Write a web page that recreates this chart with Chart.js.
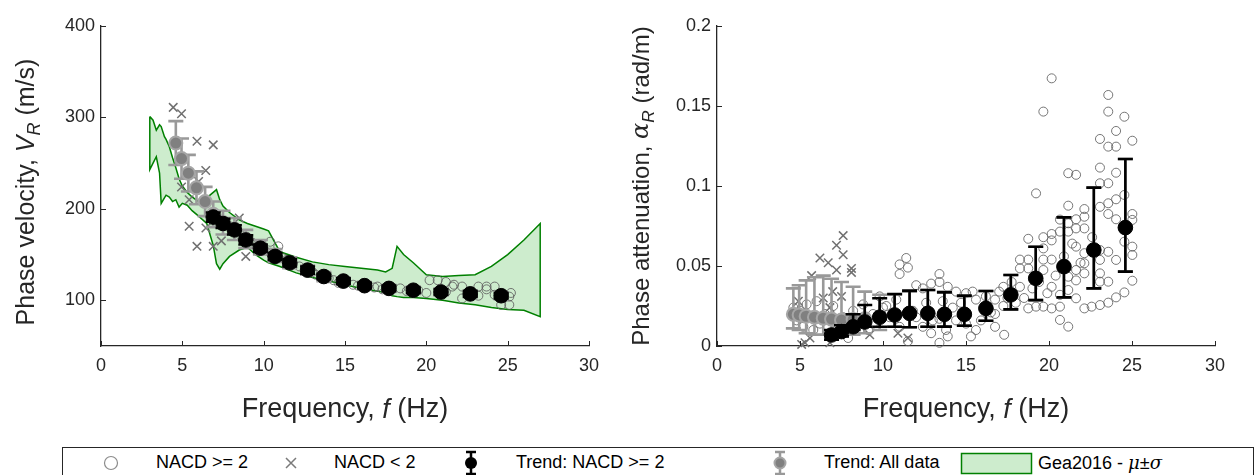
<!DOCTYPE html>
<html>
<head>
<meta charset="utf-8">
<script src="https://cdn.jsdelivr.net/npm/chart.js"></script>
<style>
  body { margin: 0; background: #fff; width: 1255px; height: 475px; overflow: hidden; position: relative; font-family: 'Liberation Sans', Arial, sans-serif; }
  canvas { position: absolute; top: 0; }
  #legend { position: absolute; left: 62px; top: 447px; width: 1190px; height: 40px; border: 1px solid #262626; background: #fff; }
  #legend span { position: absolute; top: 4px; font-size: 18px; color: #000; white-space: nowrap; }
  #legend svg { position: absolute; left: 0; top: 0; }
</style>
</head>
<body>
<canvas id="velChart" width="620" height="440" style="left:0"></canvas>
<canvas id="attChart" width="635" height="440" style="left:620px"></canvas>
<div id="legend">
  <svg width="1190" height="40">
    <circle cx="48" cy="15" r="6.5" fill="none" stroke="#8c8c8c" stroke-width="1.2"/>
    <path d="M223 10 L233 20 M233 10 L223 20" stroke="#7a7a7a" stroke-width="1.5"/>
    <path d="M408 4 V26 M403 4 H413 M403 26 H413" stroke="#000" stroke-width="2.5"/>
    <circle cx="408" cy="15" r="6" fill="#000"/>
    <path d="M717 4 V26 M712 4 H722 M712 26 H722" stroke="#999" stroke-width="2.5"/>
    <circle cx="717" cy="15" r="5.5" fill="#808080" stroke="#a6a6a6" stroke-width="2"/>
    <rect x="898.5" y="5.5" width="70" height="20" fill="#cdeccd" stroke="#008000" stroke-width="1.5"/>
  </svg>
  <span style="left:93px">NACD &gt;= 2</span>
  <span style="left:271px">NACD &lt; 2</span>
  <span style="left:453px">Trend: NACD &gt;= 2</span>
  <span style="left:761px">Trend: All data</span>
  <span style="left:975px">Gea2016 - <i style="font-family:'DejaVu Serif',serif">μ</i>±<i style="font-family:'DejaVu Serif',serif">σ</i></span>
</div>
<script>
// ---- tick labels ----
const freqTicks = [0, 5, 10, 15, 20, 25, 30];
const velTicks = [100, 200, 300, 400];
const attTicks = [0, 0.05, 0.1, 0.15, 0.2];

// ---- Gea2016 mu +/- sigma band (phase velocity) ----
const bandF = [3.0, 3.2, 3.4, 3.6, 3.7, 3.9, 4.0, 4.2, 4.4, 4.6, 4.8, 5.0, 5.3, 5.6, 6.0, 6.5, 6.9, 7.1, 7.3, 7.5, 7.9, 8.5, 9.0, 9.5, 10.0, 10.3, 11.0, 12.0, 13.0, 14.0, 15.0, 16.0, 17.0, 17.5, 17.9, 18.2, 18.6, 19.2, 20.0, 21.0, 22.0, 23.0, 24.0, 25.0, 26.0, 27.0];
const bandUpper = [301, 297, 286, 292, 290, 279, 276, 268, 256, 245, 233, 225, 218, 213, 208, 212, 218, 221, 210, 203, 196, 188, 184, 181, 178, 176, 153, 147, 142, 139, 137, 135, 133, 131, 135, 159, 150, 141, 128, 126, 127, 128, 137, 150, 166, 184];
const bandLower = [243, 250, 257, 239, 206, 212, 215, 213, 208, 210, 202, 206, 204, 198, 192, 184, 160, 140, 134, 140, 148, 155, 158, 150, 144, 141, 137, 130, 125, 121, 117, 113, 110, 108, 105, 104, 103, 103, 102, 100, 97, 95, 92, 90, 89, 82];

// ---- individual measurements, NACD >= 2 ----
const circF_vel = [6.8, 7.2, 7.6, 7.9, 8.3, 8.6, 9.0, 9.3, 9.6, 10.0, 10.4, 10.4, 10.9, 10.9, 11.2, 11.4, 11.8, 12.2, 12.6, 13.0, 13.2, 13.6, 14.0, 14.3, 14.6, 15.0, 15.5, 15.8, 16.4, 16.8, 17.0, 17.3, 17.8, 18.4, 18.8, 19.5, 20.0, 20.2, 20.7, 21.2, 21.2, 21.6, 21.7, 22.2, 22.2, 22.6, 23.2, 23.2, 23.7, 23.7, 24.2, 24.2, 24.6, 24.7, 25.1, 25.1, 25.2];
const circV = [195, 190, 186, 181, 176, 171, 168, 163, 160, 156, 164, 152, 159, 147, 146, 144, 140, 137, 132, 131, 128, 126, 124, 122, 119, 121, 117, 116, 115, 114, 115, 112, 112, 113, 110, 111, 108, 122, 122, 120, 109, 115, 117, 115, 102, 107, 115, 105, 115, 112, 115, 106, 95, 104, 95, 104, 108];

const circF_att = [4.6, 4.8, 5.0, 5.2, 5.4, 5.6, 5.8, 6.0, 6.2, 6.5, 6.8, 7.0, 7.3, 7.6, 7.9, 8.2, 8.5, 8.8, 9.1, 9.4, 9.4, 9.8, 10.0, 10.2, 10.4, 10.8, 11.0, 11.0, 11.0, 11.4, 11.5, 11.5, 11.8, 12.0, 12.0, 12.4, 12.4, 12.6, 12.9, 12.9, 13.0, 13.4, 13.4, 13.4, 13.4, 13.6, 13.8, 13.9, 13.9, 14.2, 14.4, 14.4, 14.7, 15.0, 15.0, 15.3, 15.4, 15.6, 15.6, 15.9, 16.2, 16.5, 16.75, 16.75, 16.75, 17.0, 17.25, 17.25, 17.3, 17.5, 17.75, 18.0, 18.25, 18.25, 18.25, 18.5, 18.75, 18.75, 18.75, 18.75, 19.0, 19.22, 19.22, 19.4, 19.66, 19.66, 19.66, 19.66, 19.66, 19.66, 19.9, 20.16, 20.16, 20.16, 20.16, 20.16, 20.16, 20.4, 20.66, 20.66, 20.66, 20.66, 20.66, 20.9, 21.16, 21.16, 21.16, 21.16, 21.16, 21.16, 21.16, 21.4, 21.63, 21.63, 21.63, 21.63, 21.63, 21.63, 21.63, 21.9, 22.13, 22.13, 22.13, 22.13, 22.13, 22.13, 22.13, 22.57, 22.6, 23.07, 23.07, 23.07, 23.07, 23.07, 23.07, 23.07, 23.07, 23.07, 23.57, 23.57, 23.57, 23.57, 23.57, 23.57, 23.57, 23.57, 23.57, 24.04, 24.04, 24.04, 24.04, 24.04, 24.04, 24.04, 24.54, 24.54, 24.54, 24.54, 25.02, 25.02, 25.02, 25.02, 25.02, 25.02];
const circA = [0.024, 0.016, 0.022, 0.012, 0.026, 0.018, 0.010, 0.028, 0.014, 0.020, 0.008, 0.025, 0.012, 0.018, 0.005, 0.022, 0.015, 0.026, 0.010, 0.014, 0.020, 0.031, 0.024, 0.025, 0.018, 0.029, 0.012, 0.045, 0.051, 0.055, 0.049, 0.003, 0.022, 0.038, 0.018, 0.036, 0.012, 0.027, 0.039, 0.008, 0.016, 0.045, 0.040, 0.017, 0.002, 0.028, 0.010, 0.037, 0.006, 0.024, 0.034, 0.016, 0.027, 0.033, 0.014, 0.006, 0.034, 0.029, 0.010, 0.016, 0.031, 0.021, 0.029, 0.020, 0.012, 0.034, 0.037, 0.025, 0.007, 0.030, 0.040, 0.027, 0.054, 0.0485, 0.037, 0.030, 0.067, 0.054, 0.0485, 0.0235, 0.036, 0.0954, 0.0246, 0.040, 0.1465, 0.068, 0.061, 0.054, 0.0475, 0.0246, 0.033, 0.1673, 0.070, 0.066, 0.054, 0.037, 0.0235, 0.044, 0.079, 0.0715, 0.032, 0.0246, 0.0163, 0.056, 0.108, 0.0877, 0.0767, 0.0715, 0.0433, 0.035, 0.0121, 0.064, 0.107, 0.0792, 0.0735, 0.0621, 0.0475, 0.041, 0.0298, 0.052, 0.0856, 0.0808, 0.0735, 0.058, 0.0517, 0.0454, 0.0235, 0.0246, 0.068, 0.1294, 0.1115, 0.1017, 0.087, 0.060, 0.0538, 0.0454, 0.0402, 0.0256, 0.1569, 0.1465, 0.1246, 0.1017, 0.0892, 0.0825, 0.0589, 0.0402, 0.0271, 0.1344, 0.1246, 0.1083, 0.0917, 0.0792, 0.0538, 0.0304, 0.1433, 0.0944, 0.0652, 0.0335, 0.1283, 0.0825, 0.0788, 0.0621, 0.0569, 0.0408];

// ---- individual measurements, NACD < 2 ----
const crossF_vel = [4.44, 4.95, 5.9, 6.9, 6.44, 4.95, 5.42, 6.0, 5.42, 6.45, 5.9, 6.9, 8.5, 8.9, 7.4];
const crossV = [311, 304, 274, 270, 242, 224, 210, 230, 181, 179, 159, 159, 190, 148, 165];
const crossF_att = [4.9, 5.1, 5.3, 5.6, 5.7, 6.2, 6.4, 6.7, 6.8, 6.8, 6.97, 7.2, 7.2, 7.5, 7.6, 7.6, 8.1, 8.1, 9.2, 10.9, 11.5];
const crossA = [0.028, 0.001, 0.002, 0.005, 0.044, 0.055, 0.030, 0.052, 0.024, 0.002, 0.034, 0.063, 0.0475, 0.031, 0.069, 0.057, 0.0485, 0.046, 0.007, 0.008, 0.005];

// ---- trend, all data (grey) ----
const allF = [4.6, 4.95, 5.37, 5.87, 6.4, 6.9, 7.5, 8.2, 8.9, 9.8, 10.7, 11.6, 12.7, 13.7, 14.9, 16.2, 17.7, 19.2, 20.9, 22.7, 24.6];
const allV = [272, 255, 239, 223, 208, 194, 185, 178, 167, 158, 149, 141, 133, 126, 121, 116, 113, 111, 109, 107, 105];
const allVErr = [24, 22, 20, 18, 16, 14, 13, 12, 10, 8, 7, 6, 5, 5, 4, 4, 4, 4, 4, 4, 4];
const allA = [0.0198, 0.0194, 0.0186, 0.0180, 0.0174, 0.0168, 0.0162, 0.0165, 0.017, 0.018, 0.0194, 0.0204, 0.0204, 0.0198, 0.0198, 0.0235, 0.032, 0.0423, 0.0496, 0.06, 0.074];
const allAHi = [0.036, 0.038, 0.041, 0.043, 0.044, 0.042, 0.040, 0.037, 0.034, 0.032, 0.032, 0.034, 0.035, 0.034, 0.031, 0.0344, 0.0444, 0.062, 0.0804, 0.099, 0.1169];
const allALo = [0.011, 0.010, 0.008, 0.007, 0.007, 0.006, 0.006, 0.007, 0.008, 0.010, 0.012, 0.0117, 0.012, 0.012, 0.013, 0.0158, 0.0229, 0.0287, 0.0304, 0.036, 0.0465];

// ---- trend, NACD >= 2 (black) ----
const goodF = [6.9, 7.5, 8.2, 8.9, 9.8, 10.7, 11.6, 12.7, 13.7, 14.9, 16.2, 17.7, 19.2, 20.9, 22.7, 24.6];
const goodV = [191, 184, 177, 166, 157, 148, 141, 133, 126, 121, 116, 113, 111, 109, 107, 105];
const goodVErr = [5, 5, 5, 5, 4, 4, 4, 4, 3, 3, 3, 3, 3, 3, 3, 3];
const goodA = [0.0069, 0.009, 0.012, 0.015, 0.018, 0.0194, 0.0204, 0.0204, 0.0198, 0.0198, 0.0235, 0.032, 0.0423, 0.0496, 0.06, 0.074];
const goodAHi = [0.010, 0.013, 0.0198, 0.0256, 0.0298, 0.0325, 0.0346, 0.035, 0.0335, 0.0315, 0.0344, 0.0444, 0.062, 0.0804, 0.099, 0.1169];
const goodALo = [0.004, 0.006, 0.010, 0.012, 0.012, 0.012, 0.0117, 0.012, 0.0121, 0.0127, 0.0158, 0.0229, 0.0287, 0.0304, 0.036, 0.0465];

Chart.defaults.font.family = "'Liberation Sans', Arial, sans-serif";
Chart.defaults.color = '#262626';

const pts = (xs, ys) => xs.map((x, i) => ({ x: x, y: ys[i] }));
const AX = '#262626';

// error bars drawn just before the trend markers of the same dataset
const errorBars = {
  id: 'errorBars',
  beforeDatasetDraw(chart, args) {
    const ds = chart.data.datasets[args.index];
    if (!ds.errHi) return;
    const xs = chart.scales.x, ys = chart.scales.y, ctx = chart.ctx;
    ctx.save();
    ctx.strokeStyle = ds.errColor;
    ctx.lineWidth = 2.6;
    ds.data.forEach((p, i) => {
      const px = xs.getPixelForValue(p.x);
      const y1 = ys.getPixelForValue(ds.errHi[i]);
      const y2 = ys.getPixelForValue(ds.errLo[i]);
      ctx.beginPath();
      ctx.moveTo(px, y1); ctx.lineTo(px, y2);
      ctx.moveTo(px - 7.5, y1); ctx.lineTo(px + 7.5, y1);
      ctx.moveTo(px - 7.5, y2); ctx.lineTo(px + 7.5, y2);
      ctx.stroke();
    });
    ctx.restore();
  }
};

// inward ticks + rich axis titles (italic symbols, subscripts)
const axisDeco = {
  id: 'axisDeco',
  afterDraw(chart, args, opts) {
    const ctx = chart.ctx, a = chart.chartArea;
    ctx.save();
    ctx.strokeStyle = AX;
    ctx.lineWidth = 1;
    chart.scales.x.ticks.forEach(t => {
      const px = Math.round(chart.scales.x.getPixelForValue(t.value)) + 0.5;
      ctx.beginPath(); ctx.moveTo(px, a.bottom); ctx.lineTo(px, a.bottom - 5); ctx.stroke();
    });
    chart.scales.y.ticks.forEach(t => {
      const py = Math.round(chart.scales.y.getPixelForValue(t.value)) + 0.5;
      ctx.beginPath(); ctx.moveTo(a.left, py); ctx.lineTo(a.left + 5, py); ctx.stroke();
    });
    const fontOf = (s, size) => (s.i ? 'italic ' : '') + (s.sub ? size * 0.72 : size) + 'px ' +
      (s.serif ? "'DejaVu Serif', serif" : "'Liberation Sans', Arial, sans-serif");
    const drawRich = (segs, size) => {
      const widths = segs.map(s => { ctx.font = fontOf(s, size); return ctx.measureText(s.t).width; });
      const total = widths.reduce((p, c) => p + c, 0);
      let x = -total / 2;
      segs.forEach((s, i) => {
        ctx.font = fontOf(s, size);
        ctx.fillText(s.t, x, s.sub ? size * 0.3 : 0);
        x += widths[i];
      });
    };
    ctx.fillStyle = AX;
    ctx.textBaseline = 'middle';
    ctx.textAlign = 'left';
    ctx.save();
    ctx.translate((a.left + a.right) / 2, opts.xTitleY);
    drawRich(opts.xTitle, opts.xSize);
    ctx.restore();
    ctx.save();
    ctx.translate(opts.yTitleX, (a.top + a.bottom) / 2 + opts.yShift);
    ctx.rotate(-Math.PI / 2);
    drawRich(opts.yTitle, opts.ySize);
    ctx.restore();
    ctx.restore();
  }
};

function makeScales(yMin, yMax, yTicks, yWidth) {
  return {
    x: {
      type: 'linear', min: 0, max: 30,
      afterBuildTicks: s => { s.ticks = freqTicks.map(v => ({ value: v })); },
      afterFit: s => { s.height = 94; },
      grid: { display: false, drawTicks: false },
      border: { display: true, color: AX, width: 1.3 },
      ticks: { padding: 9, font: { size: 18 }, color: AX }
    },
    y: {
      type: 'linear', min: yMin, max: yMax,
      afterBuildTicks: s => { s.ticks = yTicks.map(v => ({ value: v })); },
      afterFit: s => { s.width = yWidth; },
      grid: { display: false, drawTicks: false },
      border: { display: true, color: AX, width: 1.3 },
      ticks: { padding: 6, font: { size: 18 }, color: AX, callback: v => String(v) }
    }
  };
}

// higher "order" is drawn first (underneath)
const circleStyle = { order: 4, pointStyle: 'circle', pointRadius: 4.5, pointBackgroundColor: 'rgba(0,0,0,0)', pointBorderColor: 'rgba(95,95,95,0.85)', pointBorderWidth: 1, clip: false };
const crossStyle = { order: 3, pointStyle: 'crossRot', pointRadius: 6, pointBorderColor: '#707070', pointBorderWidth: 1.5, clip: false };
const allStyle = { order: 2, pointStyle: 'circle', pointRadius: 6.5, pointBackgroundColor: '#808080', pointBorderColor: '#a6a6a6', pointBorderWidth: 2, errColor: '#999999', clip: false };
const goodStyle = { order: 1, pointStyle: 'circle', pointRadius: 7.3, pointBackgroundColor: '#000', pointBorderColor: '#000', pointBorderWidth: 1, errColor: '#000', clip: false };

const bandPoly = pts(bandF, bandUpper)
  .concat(pts(bandF.slice().reverse(), bandLower.slice().reverse()))
  .concat([{ x: bandF[0], y: bandUpper[0] }]);

new Chart(document.getElementById('velChart'), {
  type: 'scatter',
  data: {
    datasets: [
      { type: 'line', order: 5, data: bandPoly, showLine: true, fill: 'shape', backgroundColor: '#cdeccd', borderColor: '#008000', borderWidth: 1.5, pointRadius: 0, tension: 0, clip: false },
      Object.assign({ data: pts(circF_vel, circV) }, circleStyle),
      Object.assign({ data: pts(crossF_vel, crossV) }, crossStyle),
      Object.assign({ data: pts(allF, allV), errHi: allV.map((v, i) => v + allVErr[i]), errLo: allV.map((v, i) => v - allVErr[i]) }, allStyle),
      Object.assign({ data: pts(goodF, goodV), errHi: goodV.map((v, i) => v + goodVErr[i]), errLo: goodV.map((v, i) => v - goodVErr[i]) }, goodStyle)
    ]
  },
  options: {
    responsive: false, animation: false, devicePixelRatio: 1,
    layout: { padding: { top: 26, right: 31, left: 0, bottom: 0 } },
    plugins: {
      legend: { display: false }, tooltip: { enabled: false },
      axisDeco: {
        xTitleY: 410, yTitleX: 27, xSize: 27, ySize: 25, yShift: 6,
        xTitle: [{ t: 'Frequency, ' }, { t: 'f', i: true }, { t: ' (Hz)' }],
        yTitle: [{ t: 'Phase velocity, ' }, { t: 'V', i: true }, { t: 'R', i: true, sub: true }, { t: ' (m/s)' }]
      }
    },
    scales: makeScales(50, 400, velTicks, 101)
  },
  plugins: [errorBars, axisDeco]
});

new Chart(document.getElementById('attChart'), {
  type: 'scatter',
  data: {
    datasets: [
      Object.assign({ data: pts(circF_att, circA) }, circleStyle),
      Object.assign({ data: pts(crossF_att, crossA) }, crossStyle),
      Object.assign({ data: pts(allF, allA), errHi: allAHi, errLo: allALo }, allStyle),
      Object.assign({ data: pts(goodF, goodA), errHi: goodAHi, errLo: goodALo }, goodStyle)
    ]
  },
  options: {
    responsive: false, animation: false, devicePixelRatio: 1,
    layout: { padding: { top: 26, right: 40, left: 0, bottom: 0 } },
    plugins: {
      legend: { display: false }, tooltip: { enabled: false },
      axisDeco: {
        xTitleY: 410, yTitleX: 22, xSize: 27, ySize: 24, yShift: 0,
        xTitle: [{ t: 'Frequency, ' }, { t: 'f', i: true }, { t: ' (Hz)' }],
        yTitle: [{ t: 'Phase attenuation, ' }, { t: 'α', i: true, serif: true }, { t: 'R', i: true, sub: true }, { t: ' (rad/m)' }]
      }
    },
    scales: makeScales(0, 0.2, attTicks, 97)
  },
  plugins: [errorBars, axisDeco]
});
</script>
</body>
</html>
